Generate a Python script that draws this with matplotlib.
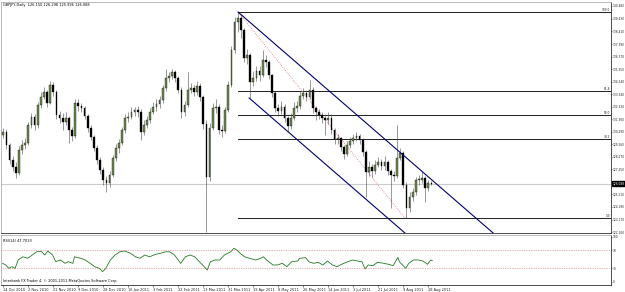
import numpy as np
import matplotlib
matplotlib.use("Agg")
import matplotlib.pyplot as plt

# GBPJPY daily, 14 Oct 2010 - 1 Sep 2011 (one candle = 2 days)
closes = [130.27, 129.21, 128.00, 127.43, 126.94, 128.81, 129.21, 129.37, 130.83, 131.48,
          130.83, 132.46, 133.10, 133.51, 132.62, 134.08, 133.51, 131.64, 131.40, 131.08,
          131.40, 130.43, 129.94, 132.62, 132.37, 132.21, 131.56, 130.59, 129.86, 128.97,
          128.00, 127.19, 126.38, 126.13, 126.78, 128.16, 128.97, 129.37, 130.43, 131.40,
          131.48, 131.89, 132.05, 131.89, 130.27, 130.83, 131.24, 131.89, 132.29, 132.54,
          132.86, 133.83, 134.64, 134.81, 135.13, 134.64, 133.67, 131.89, 132.46, 133.67,
          133.83, 133.51, 134.00, 133.10, 130.90, 126.60, 130.60, 132.21, 132.29, 130.43,
          130.35, 132.05, 134.08, 136.91, 139.18, 139.51, 138.53, 136.26, 136.51, 134.32,
          134.64, 135.21, 134.89, 136.10, 135.94, 134.89, 133.43, 132.21, 131.97, 132.29,
          131.40, 130.75, 131.40, 132.21, 132.37, 133.18, 133.43, 133.10, 133.67, 132.21,
          131.89, 131.64, 131.40, 131.24, 131.40, 130.43, 129.70, 129.78, 129.05, 128.48,
          129.21, 129.54, 129.78, 129.94, 129.62, 128.65, 127.02, 127.43, 127.11, 127.59,
          127.83, 127.51, 127.83, 127.11, 126.78, 126.70, 128.16, 128.56, 125.97, 124.11,
          125.00, 125.40, 126.38, 126.38, 126.54, 125.73, 126.15, 126.088]
highs = [130.6, 130.5, 129.4, 128.3, 127.8, 129.1, 129.6, 129.8, 131.1, 131.8,
         131.7, 132.7, 133.5, 133.9, 133.7, 134.4, 134.3, 133.7, 132.0, 131.8,
         131.9, 131.6, 130.7, 132.9, 132.9, 132.6, 132.4, 131.7, 130.8, 130.0,
         129.2, 128.2, 127.4, 126.7, 127.1, 128.4, 129.3, 129.7, 130.7, 131.7,
         131.9, 132.3, 132.3, 132.4, 132.1, 131.2, 131.6, 132.2, 132.7, 132.9,
         133.2, 134.1, 135.4, 135.1, 135.4, 135.3, 134.8, 133.9, 132.8, 135.1,
         134.2, 134.1, 134.4, 134.2, 133.3, 131.2, 131.0, 132.6, 132.9, 132.5,
         130.8, 132.3, 134.4, 137.2, 139.6, 139.99, 139.8, 138.7, 137.0, 136.7,
         135.2, 135.6, 135.6, 136.9, 136.5, 136.1, 135.0, 133.6, 132.5, 132.8,
         132.5, 131.6, 131.8, 132.7, 132.8, 133.6, 133.8, 133.7, 134.5, 133.9,
         132.4, 132.1, 131.9, 131.7, 131.9, 131.7, 130.6, 130.1, 129.9, 129.2,
         129.5, 129.9, 130.1, 130.3, 130.1, 129.8, 128.8, 127.9, 127.7, 128.0,
         128.2, 128.1, 128.3, 128.0, 127.3, 127.1, 130.8, 129.0, 128.7, 126.2,
         125.4, 125.7, 126.6, 126.8, 127.0, 126.7, 126.4, 126.298]
lows = [129.8, 128.9, 127.7, 127.1, 126.5, 126.8, 128.5, 128.9, 129.2, 130.6,
        130.4, 130.6, 132.2, 132.9, 132.3, 132.5, 133.2, 131.3, 131.0, 130.4,
        130.8, 129.4, 129.5, 129.8, 132.0, 131.9, 131.3, 130.3, 129.6, 128.7,
        127.7, 126.9, 126.0, 125.4, 125.8, 126.6, 127.9, 128.6, 129.2, 130.2,
        131.1, 131.3, 131.6, 131.5, 129.6, 130.0, 130.6, 131.0, 131.7, 132.0,
        132.2, 132.6, 133.6, 134.3, 134.6, 134.3, 133.4, 131.4, 131.6, 132.3,
        133.4, 133.2, 133.3, 132.8, 130.5, 122.2, 126.3, 130.4, 131.8, 130.1,
        129.9, 130.2, 131.9, 133.9, 136.7, 138.4, 137.9, 135.9, 135.8, 133.0,
        134.0, 134.4, 134.4, 134.7, 135.5, 134.6, 133.1, 131.9, 131.6, 131.7,
        131.1, 130.3, 130.5, 131.2, 131.9, 132.1, 132.9, 132.8, 132.9, 131.8,
        131.2, 131.3, 131.0, 130.0, 130.9, 130.1, 129.3, 129.3, 128.7, 128.1,
        128.3, 129.0, 129.3, 129.5, 129.3, 128.3, 125.0, 126.7, 126.6, 126.9,
        127.4, 127.2, 127.2, 126.8, 124.1, 126.3, 126.5, 128.0, 125.7, 123.29,
        123.8, 124.7, 125.2, 126.0, 126.1, 124.6, 125.5, 125.996]
first_open = 130.00

# RSI(14) readings: day index, value
rsi_day = [0, 2, 4, 6, 8, 10, 13, 16, 19, 22, 25, 27, 29, 32, 34, 37, 40, 42, 45, 46,
           50, 53, 56, 59, 62, 64, 66, 69, 72, 75, 78, 82, 85, 88, 91, 94, 98, 101, 104, 107,
           110, 114, 117, 120, 123, 126, 128, 131, 133, 136, 139, 142, 146, 148, 150, 152, 155, 158, 162, 165,
           167, 169, 173, 176, 179, 182, 185, 189, 190, 194, 196, 199, 202, 205, 208, 211, 214, 217, 221, 224,
           227, 230, 232, 234, 237, 240, 244, 247, 250, 253, 254, 258, 260, 263, 266, 269, 272, 274, 275]
rsi_val = [41.5, 37.8, 30.4, 34.0, 30.0, 48.9, 56.0, 52.6, 60.0, 67.4, 67.4, 60.0, 68.9, 60.0, 45.2, 48.9, 41.5, 45.0, 41.5, 56.0,
           52.6, 48.9, 41.5, 34.0, 30.4, 23.0, 30.0, 48.9, 60.0, 67.0, 69.0, 63.7, 56.0, 52.6, 60.0, 56.0, 61.5, 63.7, 67.0, 67.0,
           60.0, 41.5, 56.0, 60.0, 56.0, 45.0, 37.8, 26.7, 45.0, 48.9, 48.9, 60.0, 67.0, 74.8, 71.0, 63.7, 56.0, 52.6, 48.9, 52.6,
           56.0, 48.9, 37.8, 37.8, 41.5, 34.0, 45.0, 46.7, 52.6, 54.0, 45.0, 41.5, 43.7, 37.8, 46.7, 37.8, 34.0, 39.3, 45.0, 48.9,
           46.7, 45.0, 28.9, 37.8, 36.3, 43.7, 41.5, 39.3, 36.3, 54.8, 45.0, 30.4, 41.5, 48.9, 48.9, 46.7, 39.3, 48.9, 47.7]

date_labels = ["14 Oct 2010", "2 Nov 2010", "21 Nov 2010", "9 Dec 2010", "28 Dec 2010",
               "16 Jan 2011", "3 Feb 2011", "22 Feb 2011", "13 Mar 2011", "31 Mar 2011",
               "19 Apr 2011", "8 May 2011", "26 May 2011", "14 Jun 2011", "3 Jul 2011",
               "21 Jul 2011", "9 Aug 2011", "28 Aug 2011"]
price_ticks = [140.480, 139.430, 138.410, 137.390, 136.370, 135.350, 134.340, 133.340, 132.320,
               131.300, 130.290, 129.260, 128.270, 127.250, 125.210, 124.190, 123.170, 122.160]

# Fibonacci retracement from the April high to the August low
fib_high, fib_low = 139.99, 123.29
fib_levels = [100.0, 61.8, 50.0, 38.2, 0.0]
fib_start_day = 150.7
fib_end_day = 257.6
# channel lines: (day, price) anchors
upper_channel = [(150.7, 139.99), (330.0, 120.32)]
lower_channel = [(157.8, 133.02), (270.0, 120.71)]
last_price = 126.088

fig = plt.figure(figsize=(6.25, 2.92), dpi=100)
fig.patch.set_facecolor('white')
W, H = 625.0, 292.0
ax = fig.add_axes([1 / W, 1 - 233 / H, 610 / W, 231 / H])
ax2 = fig.add_axes([1 / W, 1 - 285 / H, 610 / W, 50 / H])

xmin, xmax = -1.0, 389.4
small = 2.5
axis_fs = 2.1

# candles
closes_a = np.array(closes)
opens_a = np.array([first_open] + closes[:-1])
days = np.arange(len(closes)) * 2 + 0.5
ax.vlines(days, lows, highs, color='#4a4a4a', linewidth=0.4, zorder=2)
bull = closes_a >= opens_a
body_h = np.maximum(np.abs(closes_a - opens_a), 0.04)
body_b = np.minimum(opens_a, closes_a)
colors = ['#6f8f4f' if b else '#000000' for b in bull]
ax.bar(days, body_h, bottom=body_b, width=1.1, color=colors,
       edgecolor='#000000', linewidth=0.25, zorder=3)

# bid line
ax.axhline(last_price, color='#cccccc', linewidth=0.8, zorder=1)

# fibonacci levels
for lvl in fib_levels:
    p = fib_low + (fib_high - fib_low) * lvl / 100.0
    ax.plot([fib_start_day, xmax], [p, p], color='#202020', linewidth=0.7, zorder=1)
    ax.text(xmax - 0.5, p, f"{lvl:.1f}", fontsize=axis_fs, ha='right', va='bottom', color='#202020')
ax.plot([fib_start_day, fib_end_day], [fib_high, fib_low], color='#e07070',
        linewidth=0.6, linestyle=(0, (1, 1.5)), zorder=1)

# channel
for line in (upper_channel, lower_channel):
    xs, ys = zip(*line)
    ax.plot(xs, ys, color='#000070', linewidth=0.8, zorder=4)

ax.set_xlim(xmin, xmax)
ax.set_ylim(122.08, 140.80)
ax.yaxis.tick_right()
ax.set_yticks(price_ticks)
ax.set_yticklabels([f"{p:.3f}" for p in price_ticks])
ax.tick_params(axis='y', labelsize=axis_fs, length=1.0, width=0.4, pad=0.5, colors='#202020')
ax.set_xticks([])

# last price box
ax.text(1.002, last_price, f"{last_price:.3f}", transform=ax.get_yaxis_transform(),
        fontsize=axis_fs, color='white', va='center', ha='left',
        bbox=dict(boxstyle='square,pad=0.12', facecolor='black', edgecolor='black'))

# RSI panel
ax2.plot(rsi_day, rsi_val, color='#237a23', linewidth=0.6)
for lvl in (70, 30):
    ax2.axhline(lvl, color='#cc6666', linewidth=0.5, linestyle=(0, (1, 1.5)))
ax2.set_xlim(xmin, xmax)
ax2.set_ylim(-6.7, 104.4)
ax2.yaxis.tick_right()
ax2.set_yticks([0, 30, 70, 100])
ax2.set_yticklabels(['0', '30', '70', '100'])
ax2.tick_params(axis='y', labelsize=axis_fs, length=1.0, width=0.4, pad=0.5, colors='#202020')
ax2.set_xticks(np.arange(len(date_labels)) * 16)
ax2.set_xticklabels(date_labels, ha='left')
ax2.tick_params(axis='x', labelsize=small, length=1.5, width=0.4, pad=1.0, colors='#202020')
ax2.text(0.004, 0.93, "RSI(14) 47.7033", transform=ax2.transAxes, fontsize=small, va='top')
ax2.text(0.004, 0.04, "Interbank FX Trader 4, \u00a9 2001-2011 MetaQuotes Software Corp.",
         transform=ax2.transAxes, fontsize=small, va='bottom')

for a in (ax, ax2):
    for side in ('left', 'top'):
        a.spines[side].set_color('#b0b0b0')
    for side in ('right', 'bottom'):
        a.spines[side].set_color('#303030')
    for s in a.spines.values():
        s.set_linewidth(0.6)

fig.text(3 / W, 1 - 5 / H, "GBPJPY,Daily  126.150 126.298 125.996 126.088",
         fontsize=small, va='center', ha='left')

fig.savefig('out.png', dpi=100)
